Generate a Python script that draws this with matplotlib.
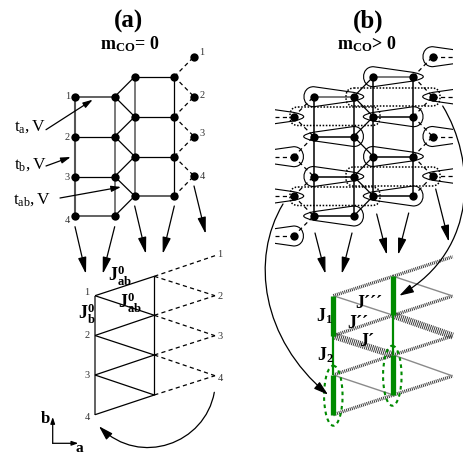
import numpy as np
import matplotlib
matplotlib.use("Agg")
import matplotlib.pyplot as plt
from matplotlib.path import Path
from matplotlib.patches import PathPatch, FancyArrowPatch, Ellipse, FancyBboxPatch, Rectangle

plt.rcParams['font.family'] = ['Liberation Serif', 'DejaVu Serif']
plt.rcParams['mathtext.fontset'] = 'custom'
plt.rcParams['mathtext.rm'] = 'Liberation Serif'
plt.rcParams['mathtext.it'] = 'Liberation Serif:italic'
plt.rcParams['mathtext.bf'] = 'Liberation Serif:bold'
plt.rcParams['lines.scale_dashes'] = False

# ---- panel (a) lattice
a_cols = [75.0, 114.7, 134.7, 174.3, 194.0]
rows_low = [97.7, 137.5, 177.5, 217.0]
rows_high = [77.7, 117.7, 157.5, 197.0]
rows_top = [57.7, 97.7, 137.5, 177.0]
site_labels = ['1', '2', '3', '4']
a_left_label_y = [97, 138, 178, 221]
a_right_label_y = [52.7, 95, 134, 177]

# ---- panel (a) triangles
tri_x = [95.0, 154.3, 215.0]
tri_left = [296.7, 336.5, 376.0, 415.7]
tri_mid = [277.3, 316.3, 356.0, 396.0]
tri_right = [256.7, 296.7, 336.7, 376.7]
tri_left_label_y = [293, 335.7, 375.7, 417.3]
tri_right_label_y = [255, 297, 337, 379]

# ---- panel (b) lattice
b_cols = [293.7, 313.7, 353.7, 373.3, 413.3, 432.7]
b_col0_rows = [117.7, 157.7, 197.0, 237.0]

# ---- panel (b) dimer chain
chain_x = [333.3, 393.3, 452.7]
chain_left = [296.7, 336.7, 376.0, 415.7]
chain_mid = [277.3, 316.3, 356.0, 396.0]
chain_right = [257.7, 297.0, 337.0, 377.0]

# teardrops: (round x, tip-side partner x, y)
loops = [
    (313.7, 353.7, 97.7), (373.3, 413.3, 77.7), (413.3, 373.3, 117.7),
    (373.3, 413.3, 157.5), (413.3, 373.3, 197.0), (353.7, 313.7, 137.5),
    (313.7, 353.7, 177.5), (353.7, 313.7, 217.0),
    (253.7, 293.7, 117.7), (293.7, 253.7, 157.7), (253.7, 293.7, 197.0), (293.7, 253.7, 237.0),
    (432.7, 472.7, 57.7), (472.7, 432.7, 97.7), (432.7, 472.7, 137.5), (472.7, 432.7, 177.0),
]
# dotted boxes: x0, x1, y0, y1
dotted = [(343, 443, 89, 107), (343, 443, 168, 187), (287, 383, 108, 126.5), (287, 383, 188, 206.5)]

# straight arrows: x0, y0, x1, y1
thin_arrows = [(46, 130.7, 92.7, 100.7), (46, 167, 70.7, 158), (60, 199, 121, 188)]
down_arrows = [
    (75, 227.7, 86, 275), (114.7, 227.7, 102.7, 275), (134.7, 207, 146, 255),
    (174.3, 207, 162.7, 255), (194, 187, 205.7, 235),
    (315, 234, 325.5, 275), (352, 234, 341.7, 275), (376.7, 215, 387, 256),
    (408.7, 214, 398, 256), (435.7, 190, 449, 243),
]
# curved arrows: cubic control points
curves = [
    [(214.3, 393.3), (205, 445), (140, 468), (99, 427.3)],
    [(442.7, 107), (475, 160), (480, 250), (399.3, 296.7)],
    [(283, 205), (250, 260), (262, 340), (328, 395.7)],
]
axis_origin = (52.7, 444.3)
axis_up = (52.7, 418)
axis_right = (78.3, 444.3)

green_ellipses = [(333.3, 396.7), (392.3, 376.7)]

fig = plt.figure(figsize=(4.64, 4.56), dpi=100)
ax = fig.add_axes([0, 0, 1, 1])
ax.set_xlim(0, 464)
ax.set_ylim(456, 0)
ax.axis('off')

BLK = '#000000'
GRY = '#555555'

def seg(p, q, color=BLK, lw=0.9, ls='-', z=2, **kw):
    return ax.plot([p[0], q[0]], [p[1], q[1]], color=color, lw=lw, ls=ls, zorder=z,
                   solid_capstyle='butt', dash_capstyle='butt', **kw)[0]

DASH = (0, (3.0, 2.4))

def dots(xs, ys, s=36):
    ax.scatter(xs, ys, s=s, color='k', zorder=5, linewidths=0)

# --------- panel (a) lattice
c = a_cols
seg((c[0], rows_low[0]), (c[0], rows_low[3]), GRY, 1.5)
seg((c[1], rows_low[0]), (c[1], rows_low[3]), GRY, 1.1)
seg((c[2], rows_high[0]), (c[2], rows_high[3]), GRY, 1.1)
seg((c[3], rows_high[0]), (c[3], rows_high[3]))
for i in range(4):
    seg((c[0], rows_low[i]), (c[1], rows_low[i]), GRY if i in (0, 3) else BLK, 1.3 if i in (0, 3) else 0.9)
    seg((c[2], rows_high[i]), (c[3], rows_high[i]), GRY if i == 3 else BLK, 1.3 if i == 3 else 0.9)
    seg((c[1], rows_low[i]), (c[2], rows_high[i]))
    if i < 3:
        seg((c[1], rows_low[i]), (c[2], rows_high[i + 1]))
    seg((c[3], rows_high[i]), (c[4], rows_top[i]), ls=DASH)
    if i < 3:
        seg((c[3], rows_high[i]), (c[4], rows_top[i + 1]), ls=DASH)
for cx, rr in [(c[0], rows_low), (c[1], rows_low), (c[2], rows_high), (c[3], rows_high), (c[4], rows_top)]:
    dots([cx] * 4, rr)
for t, y in zip(site_labels, a_left_label_y):
    ax.text(67.5, y, t, fontsize=7.5, color='#333333', ha='center', va='center')
for t, y in zip(site_labels, a_right_label_y):
    ax.text(202, y, t, fontsize=7.5, color='#333333', ha='center', va='center')

# --------- panel (a) triangles
seg((tri_x[0], tri_left[0]), (tri_x[0], tri_left[3]), GRY, 1.3)
seg((tri_x[1], tri_mid[0]), (tri_x[1], tri_mid[3]))
for i in range(4):
    seg((tri_x[0], tri_left[i]), (tri_x[1], tri_mid[i]))
    seg((tri_x[1], tri_mid[i]), (tri_x[2], tri_right[i]), ls=DASH)
    if i < 3:
        seg((tri_x[0], tri_left[i]), (tri_x[1], tri_mid[i + 1]))
        seg((tri_x[1], tri_mid[i]), (tri_x[2], tri_right[i + 1]), ls=DASH)
for t, y in zip(site_labels, tri_left_label_y):
    ax.text(87, y, t, fontsize=7.5, color='#333333', ha='center', va='center')
for t, y in zip(site_labels, tri_right_label_y):
    ax.text(220, y, t, fontsize=7.5, color='#333333', ha='center', va='center')

# --------- panel (b) lattice
b = b_cols
seg((b[1], rows_low[0]), (b[1], rows_low[3]), lw=1.1)
seg((b[2], rows_low[0]), (b[2], rows_low[3]), lw=1.1)
seg((b[3], rows_high[0]), (b[3], rows_high[3]), lw=1.1)
seg((b[4], rows_high[0]), (b[4], rows_high[3]), lw=1.1)
for i in range(4):
    seg((b[1], rows_low[i]), (b[2], rows_low[i]), GRY if i == 0 else BLK, 1.1)
    seg((b[3], rows_high[i]), (b[4], rows_high[i]), GRY if i == 0 else BLK, 1.1)
    seg((b[2], rows_low[i]), (b[3], rows_high[i]))
    if i < 3:
        seg((b[2], rows_low[i]), (b[3], rows_high[i + 1]))
    seg((b[0], b_col0_rows[i]), (b[1], rows_low[i]), ls=DASH)
    if i > 0:
        seg((b[0], b_col0_rows[i - 1]), (b[1], rows_low[i]), ls=DASH)
    seg((b[4], rows_high[i]), (b[5], rows_top[i]), ls=DASH)
    if i < 3:
        seg((b[4], rows_high[i]), (b[5], rows_top[i + 1]), ls=DASH)
    seg((b[0], b_col0_rows[i]), (275, b_col0_rows[i]), ls=DASH)
    seg((b[5], rows_top[i]), (453, rows_top[i]), ls=DASH)

clip = Rectangle((275, 0), 178, 456, transform=ax.transData)

def teardrop(xr, xp, y, r=10.0):
    s = 1 if xp > xr else -1
    xt = xp + s * 10
    verts = [(xp, y - 4.3), (xr, y - r),
             (xr - s * 13, y - r), (xr - s * 13, y + r), (xr, y + r),
             (xp, y + 4.3),
             (xp + s * 6, y + 3.0), (xt, y + 1.5), (xt, y),
             (xt, y - 1.5), (xp + s * 6, y - 3.0), (xp, y - 4.3)]
    codes = [Path.MOVETO, Path.LINETO,
             Path.CURVE4, Path.CURVE4, Path.CURVE4,
             Path.LINETO,
             Path.CURVE4, Path.CURVE4, Path.CURVE4,
             Path.CURVE4, Path.CURVE4, Path.CURVE4]
    p = PathPatch(Path(verts, codes), fc='none', ec='k', lw=0.8, zorder=3)
    ax.add_patch(p)
    p.set_clip_path(clip)

for xr, xp, y in loops:
    teardrop(xr, xp, y)

for x0, x1, y0, y1 in dotted:
    ax.add_patch(FancyBboxPatch((x0 + 6, y0 + 3), x1 - x0 - 12, y1 - y0 - 6,
                                boxstyle='round,pad=3,rounding_size=8', fc='none', ec='k',
                                lw=1.1, ls=(0, (1.1, 1.2)), zorder=4))
dots([b[1]] * 4, rows_low)
dots([b[2]] * 4, rows_low)
dots([b[3]] * 4, rows_high)
dots([b[4]] * 4, rows_high)
dots([b[0]] * 4, b_col0_rows)
dots([b[5]] * 4, rows_top)

# --------- panel (b) chain
SPRING = (0, (0.7, 0.7))
def spring(p, q, lw=3.0):
    seg(p, q, '#3a3a3a', lw, SPRING, z=2)
def weak(p, q):
    seg(p, q, '#8a8a8a', 1.0, '-', z=2)

x = chain_x
for i in range(4):
    spring((x[0], chain_left[i]), (x[1], chain_mid[i]), 2.4)
    spring((x[1], chain_mid[i]), (x[2], chain_right[i]), 2.4)
weak((x[0], chain_left[0]), (x[1], chain_mid[1]))
spring((x[1], chain_mid[1]), (x[2], chain_right[2]), 5.0)
spring((x[0], chain_left[1]), (x[1], chain_mid[2]), 5.0)
weak((x[1], chain_mid[2]), (x[2], chain_right[3]))
weak((x[0], chain_left[2]), (x[1], chain_mid[3]))
weak((x[1], chain_mid[0]), (x[2], chain_right[1]))

GREEN = '#008a00'
for i, lw in enumerate([3.8, 1.6, 3.8]):
    seg((x[0], chain_left[i]), (x[0], chain_left[i + 1]), GREEN, lw, z=4)
    seg((x[1], chain_mid[i]), (x[1], chain_mid[i + 1]), GREEN, lw, z=4)
for cx, cy in green_ellipses:
    ax.add_patch(Ellipse((cx, cy), 18.5, 60, fc='none', ec=GREEN, lw=1.5, ls=(0, (2.6, 2.6)), zorder=5))

# --------- arrows
def arrow(p, q, hl=4.2, hw=1.05, lw=0.9):
    ax.add_patch(FancyArrowPatch(p, q, arrowstyle=f'-|>,head_length={hl},head_width={hw}', mutation_scale=2.4,
                                 shrinkA=0, shrinkB=0, lw=lw, color='k', zorder=6))

for x0, y0, x1, y1 in thin_arrows:
    arrow((x0, y0), (x1, y1), hl=2.4, hw=0.75)
for x0, y0, x1, y1 in down_arrows:
    arrow((x0, y0), (x1, y1), hl=4.2, hw=1.05)
for cv in curves:
    ax.add_patch(FancyArrowPatch(path=Path(cv, [Path.MOVETO, Path.CURVE4, Path.CURVE4, Path.CURVE4]),
                                 arrowstyle='-|>,head_length=3.6,head_width=1.1', mutation_scale=2.4,
                                 lw=0.9, color='k', zorder=6))
arrow(axis_origin, axis_up, hl=1.6, hw=0.55)
arrow(axis_origin, axis_right, hl=1.6, hw=0.55)

# --------- text
def txt(x_, y_, s, size, **kw):
    ax.text(x_, y_, s, fontsize=size, ha='center', va='center', zorder=8, **kw)

txt(129, 21, '(a)', 18, fontweight='bold')
txt(368, 21, '(b)', 18, fontweight='bold')
txt(130, 44, r'$\mathbf{m_{CO}\!=\,0}$', 13)
txt(367, 44, r'$\mathbf{m_{CO}\!>\,0}$', 13)
txt(30, 127, r'$\mathrm{t_a,V}$', 12.5)
txt(30, 165, r'$\mathrm{t_b,V}$', 12.5)
txt(32, 200, r'$\mathrm{t_{ab},V}$', 12.5)
txt(120, 276, r'$\mathbf{J_{ab}^{0}}$', 13)
txt(130, 303, r'$\mathbf{J_{ab}^{0}}$', 13)
txt(87, 314, r'$\mathbf{J_{b}^{0}}$', 13)
txt(324, 316, r'$\mathbf{J_{1}}$', 13)
txt(325, 355, r'$\mathbf{J_{2}}$', 13)
txt(369, 304, 'J\u00b4\u00b4\u00b4', 13, fontweight='bold')
txt(358, 324, 'J\u00b4\u00b4', 13, fontweight='bold')
txt(367, 342, 'J\u00b4', 13, fontweight='bold')
txt(45.5, 419, 'b', 12, fontweight='bold')
txt(79.5, 449, 'a', 11, fontweight='bold')

fig.savefig('out.png', dpi=100)
